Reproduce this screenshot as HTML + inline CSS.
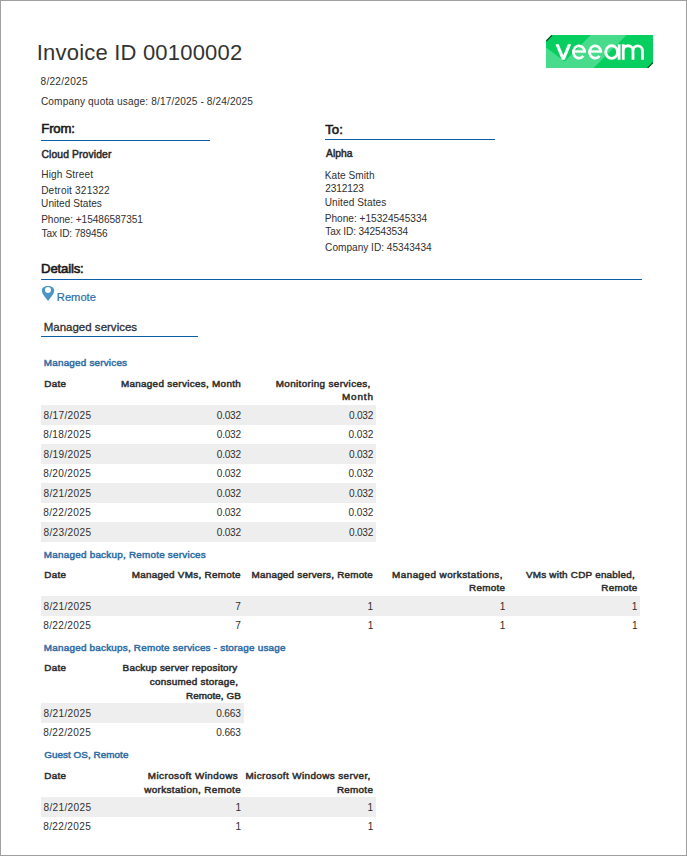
<!DOCTYPE html>
<html><head><meta charset="utf-8"><style>
html,body{margin:0;padding:0;}
body{width:687px;height:856px;position:relative;overflow:hidden;background:#fff;font-family:"Liberation Sans",sans-serif;}
.frame{position:absolute;left:0;top:0;width:685px;height:854px;border:1px solid #a0a0a0;}
.t{position:absolute;white-space:nowrap;}
.t i{display:inline-block;width:0;height:0;vertical-align:baseline;}
.band{position:absolute;background:#eeeeee;}
.ln{position:absolute;height:1px;background:#0a60a8;}
</style></head><body>
<div class="frame"></div>
<div class="band" style="left:41px;top:404.90px;width:335.00px;height:20.00px"></div><div class="band" style="left:41px;top:444.00px;width:335.00px;height:20.00px"></div><div class="band" style="left:41px;top:483.10px;width:335.00px;height:20.00px"></div><div class="band" style="left:41px;top:522.20px;width:335.00px;height:20.00px"></div><div class="band" style="left:41px;top:596.00px;width:599.20px;height:20.00px"></div><div class="band" style="left:41px;top:703.00px;width:202.80px;height:20.00px"></div><div class="band" style="left:41px;top:797.00px;width:335.00px;height:20.00px"></div>
<div class="ln" style="left:41px;top:140px;width:169px"></div><div class="ln" style="left:325px;top:139px;width:170px"></div><div class="ln" style="left:41px;top:279px;width:601px"></div><div class="ln" style="left:41px;top:336px;width:157px"></div>
<svg width="14" height="17" viewBox="0 0 14 17" style="position:absolute;left:41px;top:285px"><path d="M7.05 0.9 C10.6 0.9 13.2 2.5 13.2 5.5 C13.2 8.3 11.3 10.8 7.05 15.9 C2.8 10.8 0.9 8.3 0.9 5.5 C0.9 2.5 3.5 0.9 7.05 0.9 Z M6.95 1.9 A3 3 0 1 0 6.95 7.9 A3 3 0 1 0 6.95 1.9 Z" fill="#4a94c6" fill-rule="evenodd"/></svg>
<svg width="107" height="33" viewBox="0 0 107 33" style="position:absolute;left:546px;top:35px">
<defs><clipPath id="lc"><polygon points="5.5,0 107,0 107,28 102,33 0,33 0,5.5"/></clipPath></defs>
<g clip-path="url(#lc)">
<rect x="0" y="0" width="107" height="33" fill="#47dc8b"/>
<polygon points="0,0 44.8,0 18.6,26.6 0,12.6" fill="#06cf5f"/>
<polygon points="80.5,0 107,0 107,33 47.5,33" fill="#06cf5f"/>
</g>
<path d="M6,0.3 L0.3,6" stroke="#1a3a22" stroke-width="1.3" opacity="0.85"/>
<path d="M107,27.6 L101.6,33" stroke="#1a3a22" stroke-width="1.3" opacity="0.85"/>
<polygon points="9.4,9.35 12.75,9.35 17.3,20.3 21.85,9.35 25.2,9.35 18.8,24.75 15.8,24.75" fill="#fff"/>
<g fill="none" stroke="#fff" stroke-width="2.7">
<path d="M38.60,17.00 A5.6,6.2 0 1 0 37.29,20.99"/>
<path d="M26.1,16.5 H39.9" stroke-width="2.4"/>
<path d="M54.80,17.00 A5.6,6.2 0 1 0 53.49,20.99"/>
<path d="M42.3,16.5 H56.1" stroke-width="2.4"/>
<ellipse cx="65.65" cy="17.05" rx="5.95" ry="6.3" stroke-width="2.8"/>
<path d="M73.1,9.35 V24.75" stroke-width="2.8"/>
<path d="M77.25,24.75 V9.35 M77.25,15.6 A4.875,4.875 0 0 1 87,15.6 V24.75 M87,15.6 A4.725,4.725 0 0 1 96.45,15.6 V24.75" stroke-width="2.8"/>
</g>
</svg>

<div class="t" style="left:36.77px;top:37.91px;font-size:22px;line-height:29px;font-weight:400;color:#333333;letter-spacing:0.201px;"><span>Invoice ID 00100002</span><i></i></div><div class="t" style="left:40.60px;top:75.11px;font-size:10.1px;line-height:13px;font-weight:400;color:#303030;letter-spacing:0.249px;"><span>8/22/2025</span><i></i></div><div class="t" style="left:40.93px;top:95.20px;font-size:10.1px;line-height:13px;font-weight:400;color:#303030;letter-spacing:0.148px;"><span>Company quota usage: 8/17/2025 - 8/24/2025</span><i></i></div><div class="t" style="left:41.32px;top:120.10px;font-size:13.2px;line-height:17px;font-weight:400;color:#1a1a1a;-webkit-text-stroke:0.6px #1a1a1a;letter-spacing:-0.215px;"><span>From:</span><i></i></div><div class="t" style="left:41.48px;top:148.01px;font-size:10.3px;line-height:13px;font-weight:400;color:#2a2a2a;-webkit-text-stroke:0.5px #2a2a2a;letter-spacing:0.133px;"><span>Cloud Provider</span><i></i></div><div class="t" style="left:41.28px;top:167.81px;font-size:10.1px;line-height:13px;font-weight:400;color:#303030;letter-spacing:0.119px;"><span>High Street</span><i></i></div><div class="t" style="left:41.14px;top:183.61px;font-size:10.1px;line-height:13px;font-weight:400;color:#303030;letter-spacing:0.176px;"><span>Detroit 321322</span><i></i></div><div class="t" style="left:41.08px;top:196.50px;font-size:10.1px;line-height:13px;font-weight:400;color:#303030;letter-spacing:0.019px;"><span>United States</span><i></i></div><div class="t" style="left:41.18px;top:212.61px;font-size:10.1px;line-height:13px;font-weight:400;color:#303030;letter-spacing:-0.036px;"><span>Phone: +15486587351</span><i></i></div><div class="t" style="left:41.53px;top:226.70px;font-size:10.1px;line-height:13px;font-weight:400;color:#303030;letter-spacing:-0.136px;"><span>Tax ID: 789456</span><i></i></div><div class="t" style="left:325.13px;top:120.81px;font-size:13.2px;line-height:17px;font-weight:400;color:#1a1a1a;-webkit-text-stroke:0.6px #1a1a1a;letter-spacing:0.157px;"><span>To:</span><i></i></div><div class="t" style="left:326.08px;top:146.81px;font-size:10.3px;line-height:13px;font-weight:400;color:#2a2a2a;-webkit-text-stroke:0.5px #2a2a2a;letter-spacing:0.028px;"><span>Alpha</span><i></i></div><div class="t" style="left:324.72px;top:168.91px;font-size:10.1px;line-height:13px;font-weight:400;color:#303030;letter-spacing:0.053px;"><span>Kate Smith</span><i></i></div><div class="t" style="left:325.13px;top:181.50px;font-size:10.1px;line-height:13px;font-weight:400;color:#303030;letter-spacing:-0.094px;"><span>2312123</span><i></i></div><div class="t" style="left:324.72px;top:195.50px;font-size:10.1px;line-height:13px;font-weight:400;color:#303030;letter-spacing:0.084px;"><span>United States</span><i></i></div><div class="t" style="left:324.74px;top:211.50px;font-size:10.1px;line-height:13px;font-weight:400;color:#303030;"><span>Phone: +15324545334</span><i></i></div><div class="t" style="left:325.26px;top:225.20px;font-size:10.1px;line-height:13px;font-weight:400;color:#303030;letter-spacing:-0.110px;"><span>Tax ID: 342543534</span><i></i></div><div class="t" style="left:325.10px;top:240.61px;font-size:10.1px;line-height:13px;font-weight:400;color:#303030;"><span>Company ID: 45343434</span><i></i></div><div class="t" style="left:41.05px;top:259.81px;font-size:13.2px;line-height:17px;font-weight:400;color:#1a1a1a;-webkit-text-stroke:0.6px #1a1a1a;letter-spacing:-0.180px;"><span>Details:</span><i></i></div><div class="t" style="left:56.85px;top:289.91px;font-size:11.2px;line-height:15px;font-weight:400;color:#2a6dab;-webkit-text-stroke:0.2px #2a6dab;letter-spacing:-0.023px;"><span>Remote</span><i></i></div><div class="t" style="left:43.67px;top:320.01px;font-size:11.5px;line-height:15px;font-weight:400;color:#2e2e2e;-webkit-text-stroke:0.3px #2e2e2e;letter-spacing:0.008px;"><span>Managed services</span><i></i></div><div class="t" style="left:43.85px;top:355.71px;font-size:9.9px;line-height:13px;font-weight:400;color:#2f6ea5;-webkit-text-stroke:0.5px #2f6ea5;letter-spacing:0.204px;"><span>Managed services</span><i></i></div><div class="t" style="left:44.36px;top:376.81px;font-size:9.9px;line-height:13px;font-weight:400;color:#2e2e2e;-webkit-text-stroke:0.5px #2e2e2e;letter-spacing:0.267px;"><span>Date</span><i></i></div><div class="t" style="right:445.95px;top:376.81px;font-size:9.9px;line-height:13px;font-weight:400;color:#2e2e2e;-webkit-text-stroke:0.5px #2e2e2e;letter-spacing:0.309px;"><span>Managed services, Month</span><i></i></div><div class="t" style="right:316.33px;top:376.81px;font-size:9.9px;line-height:13px;font-weight:400;color:#2e2e2e;-webkit-text-stroke:0.5px #2e2e2e;letter-spacing:0.354px;"><span>Monitoring services,</span><i></i></div><div class="t" style="right:313.21px;top:389.91px;font-size:9.9px;line-height:13px;font-weight:400;color:#2e2e2e;-webkit-text-stroke:0.5px #2e2e2e;letter-spacing:0.862px;"><span>Month</span><i></i></div><div class="t" style="left:43.50px;top:408.70px;font-size:10.1px;line-height:13px;font-weight:400;color:#303030;letter-spacing:0.324px;"><span>8/17/2025</span><i></i></div><div class="t" style="right:446.25px;top:408.70px;font-size:10.1px;line-height:13px;font-weight:400;color:#303030;letter-spacing:-0.275px;"><span>0.032</span><i></i></div><div class="t" style="right:313.91px;top:408.70px;font-size:10.1px;line-height:13px;font-weight:400;color:#303030;letter-spacing:-0.238px;"><span>0.032</span><i></i></div><div class="t" style="left:43.24px;top:428.25px;font-size:10.1px;line-height:13px;font-weight:400;color:#303030;letter-spacing:0.334px;"><span>8/18/2025</span><i></i></div><div class="t" style="right:446.21px;top:428.25px;font-size:10.1px;line-height:13px;font-weight:400;color:#303030;letter-spacing:-0.246px;"><span>0.032</span><i></i></div><div class="t" style="right:313.71px;top:428.25px;font-size:10.1px;line-height:13px;font-weight:400;color:#303030;letter-spacing:-0.089px;"><span>0.032</span><i></i></div><div class="t" style="left:43.50px;top:447.81px;font-size:10.1px;line-height:13px;font-weight:400;color:#303030;letter-spacing:0.324px;"><span>8/19/2025</span><i></i></div><div class="t" style="right:446.25px;top:447.81px;font-size:10.1px;line-height:13px;font-weight:400;color:#303030;letter-spacing:-0.275px;"><span>0.032</span><i></i></div><div class="t" style="right:313.91px;top:447.81px;font-size:10.1px;line-height:13px;font-weight:400;color:#303030;letter-spacing:-0.238px;"><span>0.032</span><i></i></div><div class="t" style="left:43.24px;top:467.36px;font-size:10.1px;line-height:13px;font-weight:400;color:#303030;letter-spacing:0.334px;"><span>8/20/2025</span><i></i></div><div class="t" style="right:446.21px;top:467.36px;font-size:10.1px;line-height:13px;font-weight:400;color:#303030;letter-spacing:-0.246px;"><span>0.032</span><i></i></div><div class="t" style="right:313.71px;top:467.36px;font-size:10.1px;line-height:13px;font-weight:400;color:#303030;letter-spacing:-0.089px;"><span>0.032</span><i></i></div><div class="t" style="left:43.50px;top:486.91px;font-size:10.1px;line-height:13px;font-weight:400;color:#303030;letter-spacing:0.324px;"><span>8/21/2025</span><i></i></div><div class="t" style="right:446.25px;top:486.91px;font-size:10.1px;line-height:13px;font-weight:400;color:#303030;letter-spacing:-0.275px;"><span>0.032</span><i></i></div><div class="t" style="right:313.91px;top:486.91px;font-size:10.1px;line-height:13px;font-weight:400;color:#303030;letter-spacing:-0.238px;"><span>0.032</span><i></i></div><div class="t" style="left:43.24px;top:506.45px;font-size:10.1px;line-height:13px;font-weight:400;color:#303030;letter-spacing:0.334px;"><span>8/22/2025</span><i></i></div><div class="t" style="right:446.21px;top:506.45px;font-size:10.1px;line-height:13px;font-weight:400;color:#303030;letter-spacing:-0.246px;"><span>0.032</span><i></i></div><div class="t" style="right:313.71px;top:506.45px;font-size:10.1px;line-height:13px;font-weight:400;color:#303030;letter-spacing:-0.089px;"><span>0.032</span><i></i></div><div class="t" style="left:43.50px;top:526.00px;font-size:10.1px;line-height:13px;font-weight:400;color:#303030;letter-spacing:0.324px;"><span>8/23/2025</span><i></i></div><div class="t" style="right:446.25px;top:526.00px;font-size:10.1px;line-height:13px;font-weight:400;color:#303030;letter-spacing:-0.275px;"><span>0.032</span><i></i></div><div class="t" style="right:313.91px;top:526.00px;font-size:10.1px;line-height:13px;font-weight:400;color:#303030;letter-spacing:-0.238px;"><span>0.032</span><i></i></div><div class="t" style="left:43.85px;top:547.60px;font-size:9.9px;line-height:13px;font-weight:400;color:#2f6ea5;-webkit-text-stroke:0.5px #2f6ea5;letter-spacing:0.237px;"><span>Managed backup, Remote services</span><i></i></div><div class="t" style="left:44.36px;top:567.71px;font-size:9.9px;line-height:13px;font-weight:400;color:#2e2e2e;-webkit-text-stroke:0.5px #2e2e2e;letter-spacing:0.267px;"><span>Date</span><i></i></div><div class="t" style="right:446.13px;top:567.71px;font-size:9.9px;line-height:13px;font-weight:400;color:#2e2e2e;-webkit-text-stroke:0.5px #2e2e2e;letter-spacing:0.289px;"><span>Managed VMs, Remote</span><i></i></div><div class="t" style="right:313.94px;top:567.71px;font-size:9.9px;line-height:13px;font-weight:400;color:#2e2e2e;-webkit-text-stroke:0.5px #2e2e2e;letter-spacing:0.224px;"><span>Managed servers, Remote</span><i></i></div><div class="t" style="right:184.09px;top:567.71px;font-size:9.9px;line-height:13px;font-weight:400;color:#2e2e2e;-webkit-text-stroke:0.5px #2e2e2e;letter-spacing:0.441px;"><span>Managed workstations,</span><i></i></div><div class="t" style="right:181.74px;top:580.71px;font-size:9.9px;line-height:13px;font-weight:400;color:#2e2e2e;-webkit-text-stroke:0.5px #2e2e2e;letter-spacing:0.285px;"><span>Remote</span><i></i></div><div class="t" style="right:52.08px;top:567.71px;font-size:9.9px;line-height:13px;font-weight:400;color:#2e2e2e;-webkit-text-stroke:0.5px #2e2e2e;letter-spacing:0.233px;"><span>VMs with CDP enabled,</span><i></i></div><div class="t" style="right:49.57px;top:580.71px;font-size:9.9px;line-height:13px;font-weight:400;color:#2e2e2e;-webkit-text-stroke:0.5px #2e2e2e;letter-spacing:0.251px;"><span>Remote</span><i></i></div><div class="t" style="left:43.50px;top:599.81px;font-size:10.1px;line-height:13px;font-weight:400;color:#303030;letter-spacing:0.324px;"><span>8/21/2025</span><i></i></div><div class="t" style="right:446.13px;top:599.81px;font-size:10.1px;line-height:13px;font-weight:400;color:#303030;letter-spacing:0.035px;"><span>7</span><i></i></div><div class="t" style="right:313.93px;top:599.81px;font-size:10.1px;line-height:13px;font-weight:400;color:#303030;letter-spacing:0.034px;"><span>1</span><i></i></div><div class="t" style="right:181.69px;top:599.81px;font-size:10.1px;line-height:13px;font-weight:400;color:#303030;letter-spacing:0.031px;"><span>1</span><i></i></div><div class="t" style="right:49.67px;top:599.81px;font-size:10.1px;line-height:13px;font-weight:400;color:#303030;letter-spacing:0.031px;"><span>1</span><i></i></div><div class="t" style="left:43.24px;top:619.36px;font-size:10.1px;line-height:13px;font-weight:400;color:#303030;letter-spacing:0.334px;"><span>8/22/2025</span><i></i></div><div class="t" style="right:446.03px;top:619.36px;font-size:10.1px;line-height:13px;font-weight:400;color:#303030;letter-spacing:0.034px;"><span>7</span><i></i></div><div class="t" style="right:313.59px;top:619.36px;font-size:10.1px;line-height:13px;font-weight:400;color:#303030;letter-spacing:0.033px;"><span>1</span><i></i></div><div class="t" style="right:181.70px;top:619.36px;font-size:10.1px;line-height:13px;font-weight:400;color:#303030;letter-spacing:0.030px;"><span>1</span><i></i></div><div class="t" style="right:49.39px;top:619.36px;font-size:10.1px;line-height:13px;font-weight:400;color:#303030;letter-spacing:0.030px;"><span>1</span><i></i></div><div class="t" style="left:43.85px;top:640.60px;font-size:9.9px;line-height:13px;font-weight:400;color:#2f6ea5;-webkit-text-stroke:0.5px #2f6ea5;letter-spacing:0.225px;"><span>Managed backups, Remote services - storage usage</span><i></i></div><div class="t" style="left:44.36px;top:661.01px;font-size:9.9px;line-height:13px;font-weight:400;color:#2e2e2e;-webkit-text-stroke:0.5px #2e2e2e;letter-spacing:0.267px;"><span>Date</span><i></i></div><div class="t" style="right:449.44px;top:661.01px;font-size:9.9px;line-height:13px;font-weight:400;color:#2e2e2e;-webkit-text-stroke:0.5px #2e2e2e;letter-spacing:0.239px;"><span>Backup server repository</span><i></i></div><div class="t" style="right:448.68px;top:674.81px;font-size:9.9px;line-height:13px;font-weight:400;color:#2e2e2e;-webkit-text-stroke:0.5px #2e2e2e;letter-spacing:0.270px;"><span>consumed storage,</span><i></i></div><div class="t" style="right:446.19px;top:688.60px;font-size:9.9px;line-height:13px;font-weight:400;color:#2e2e2e;-webkit-text-stroke:0.5px #2e2e2e;letter-spacing:0.050px;"><span>Remote, GB</span><i></i></div><div class="t" style="left:43.50px;top:706.81px;font-size:10.1px;line-height:13px;font-weight:400;color:#303030;letter-spacing:0.324px;"><span>8/21/2025</span><i></i></div><div class="t" style="right:446.36px;top:706.81px;font-size:10.1px;line-height:13px;font-weight:400;color:#303030;letter-spacing:-0.191px;"><span>0.663</span><i></i></div><div class="t" style="left:43.24px;top:726.36px;font-size:10.1px;line-height:13px;font-weight:400;color:#303030;letter-spacing:0.334px;"><span>8/22/2025</span><i></i></div><div class="t" style="right:446.22px;top:726.36px;font-size:10.1px;line-height:13px;font-weight:400;color:#303030;letter-spacing:-0.163px;"><span>0.663</span><i></i></div><div class="t" style="left:44.18px;top:748.10px;font-size:9.9px;line-height:13px;font-weight:400;color:#2f6ea5;-webkit-text-stroke:0.5px #2f6ea5;letter-spacing:0.054px;"><span>Guest OS, Remote</span><i></i></div><div class="t" style="left:44.36px;top:768.71px;font-size:9.9px;line-height:13px;font-weight:400;color:#2e2e2e;-webkit-text-stroke:0.5px #2e2e2e;letter-spacing:0.267px;"><span>Date</span><i></i></div><div class="t" style="right:448.90px;top:768.71px;font-size:9.9px;line-height:13px;font-weight:400;color:#2e2e2e;-webkit-text-stroke:0.5px #2e2e2e;letter-spacing:0.443px;"><span>Microsoft Windows</span><i></i></div><div class="t" style="right:446.01px;top:782.60px;font-size:9.9px;line-height:13px;font-weight:400;color:#2e2e2e;-webkit-text-stroke:0.5px #2e2e2e;letter-spacing:0.353px;"><span>workstation, Remote</span><i></i></div><div class="t" style="right:316.33px;top:768.71px;font-size:9.9px;line-height:13px;font-weight:400;color:#2e2e2e;-webkit-text-stroke:0.5px #2e2e2e;letter-spacing:0.399px;"><span>Microsoft Windows server,</span><i></i></div><div class="t" style="right:313.82px;top:782.60px;font-size:9.9px;line-height:13px;font-weight:400;color:#2e2e2e;-webkit-text-stroke:0.5px #2e2e2e;letter-spacing:0.285px;"><span>Remote</span><i></i></div><div class="t" style="left:43.50px;top:800.81px;font-size:10.1px;line-height:13px;font-weight:400;color:#303030;letter-spacing:0.324px;"><span>8/21/2025</span><i></i></div><div class="t" style="right:445.97px;top:800.81px;font-size:10.1px;line-height:13px;font-weight:400;color:#303030;letter-spacing:0.034px;"><span>1</span><i></i></div><div class="t" style="right:313.93px;top:800.81px;font-size:10.1px;line-height:13px;font-weight:400;color:#303030;letter-spacing:0.034px;"><span>1</span><i></i></div><div class="t" style="left:43.24px;top:820.36px;font-size:10.1px;line-height:13px;font-weight:400;color:#303030;letter-spacing:0.334px;"><span>8/22/2025</span><i></i></div><div class="t" style="right:445.88px;top:820.36px;font-size:10.1px;line-height:13px;font-weight:400;color:#303030;letter-spacing:0.033px;"><span>1</span><i></i></div><div class="t" style="right:313.59px;top:820.36px;font-size:10.1px;line-height:13px;font-weight:400;color:#303030;letter-spacing:0.033px;"><span>1</span><i></i></div>
</body></html>
